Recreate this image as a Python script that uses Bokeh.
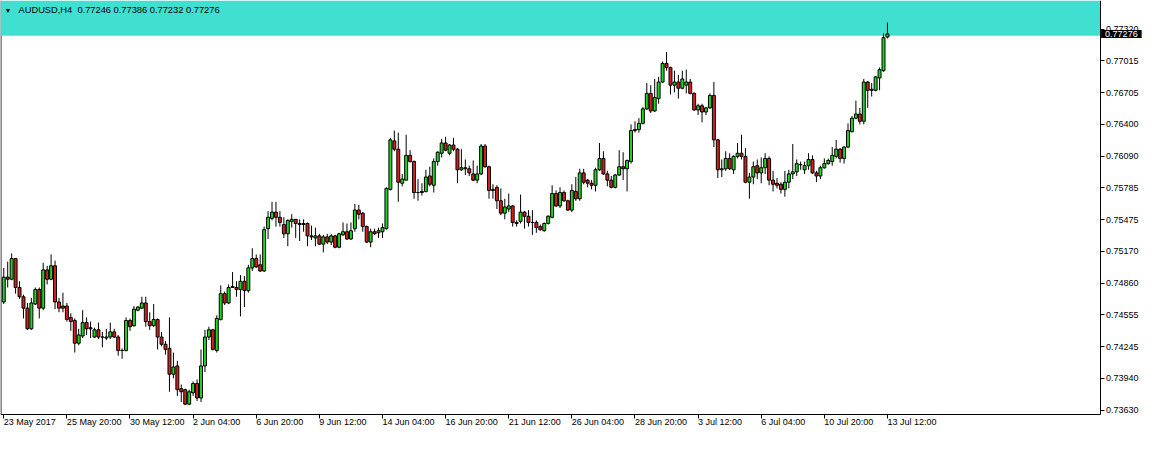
from bokeh.plotting import figure
from bokeh.models import (Range1d, FixedTicker, PrintfTickFormatter, BoxAnnotation,
                          Label, ColumnDataSource)
from bokeh.embed import file_html
from bokeh.resources import INLINE

symbol = "AUDUSD,H4"

open_ = [
    0.7468, 0.7492, 0.7490, 0.7510, 0.7482, 0.7473, 0.7462, 0.7442, 0.7466, 0.7480,
    0.7462, 0.7499, 0.7490, 0.7503, 0.7468, 0.7464, 0.7464, 0.7453, 0.7450, 0.7428,
    0.7435, 0.7448, 0.7443, 0.7434, 0.7441, 0.7434, 0.7433, 0.7434, 0.7439, 0.7434,
    0.7421, 0.7421, 0.7450, 0.7445, 0.7460, 0.7462, 0.7467, 0.7449, 0.7445, 0.7451,
    0.7434, 0.7427, 0.7423, 0.7398, 0.7406, 0.7384, 0.7383, 0.7369, 0.7380, 0.7389,
    0.7375, 0.7406, 0.7434, 0.7441, 0.7421, 0.7451, 0.7476, 0.7467, 0.7482, 0.7482,
    0.7480, 0.7488, 0.7479, 0.7501, 0.7510, 0.7504, 0.7498, 0.7539, 0.7549, 0.7555,
    0.7550, 0.7543, 0.7534, 0.7546, 0.7548, 0.7544, 0.7543, 0.7544, 0.7532, 0.7530,
    0.7532, 0.7524, 0.7531, 0.7526, 0.7532, 0.7521, 0.7533, 0.7536, 0.7529, 0.7539,
    0.7557, 0.7554, 0.7541, 0.7526, 0.7536, 0.7535, 0.7536, 0.7539, 0.7577, 0.7624,
    0.7616, 0.7583, 0.7586, 0.7610, 0.7604, 0.7574, 0.7574, 0.7575, 0.7590, 0.7581,
    0.7604, 0.7612, 0.7622, 0.7612, 0.7620, 0.7616, 0.7596, 0.7598, 0.7597, 0.7592,
    0.7586, 0.7592, 0.7619, 0.7599, 0.7576, 0.7579, 0.7566, 0.7554, 0.7558, 0.7561,
    0.7545, 0.7546, 0.7555, 0.7551, 0.7545, 0.7545, 0.7541, 0.7537, 0.7544, 0.7550,
    0.7573, 0.7561, 0.7574, 0.7566, 0.7557, 0.7575, 0.7568, 0.7593, 0.7586, 0.7583,
    0.7581, 0.7596, 0.7607, 0.7592, 0.7586, 0.7579, 0.7591, 0.7599, 0.7597, 0.7604,
    0.7634, 0.7635, 0.7641, 0.7655, 0.7670, 0.7653, 0.7665, 0.7681, 0.7699, 0.7695,
    0.7678, 0.7681, 0.7675, 0.7678, 0.7681, 0.7670, 0.7654, 0.7658, 0.7652, 0.7656,
    0.7668, 0.7625, 0.7596, 0.7597, 0.7607, 0.7596, 0.7609, 0.7612, 0.7609, 0.7584,
    0.7589, 0.7600, 0.7593, 0.7598, 0.7607, 0.7586, 0.7583, 0.7582, 0.7577, 0.7584,
    0.7592, 0.7594, 0.7601, 0.7596, 0.7600, 0.7606, 0.7593, 0.7590, 0.7598, 0.7602,
    0.7604, 0.7609, 0.7616, 0.7607, 0.7618, 0.7633, 0.7646, 0.7650, 0.7643, 0.7681,
    0.7673, 0.7673, 0.7685, 0.7692, 0.77246]

high = [
    0.7501, 0.7507, 0.7515, 0.7510, 0.7488, 0.7475, 0.7467, 0.7472, 0.7482, 0.7482,
    0.7506, 0.7503, 0.7514, 0.7508, 0.7472, 0.7477, 0.7467, 0.7457, 0.7452, 0.7442,
    0.7460, 0.7453, 0.7449, 0.7443, 0.7448, 0.7439, 0.7442, 0.7448, 0.7442, 0.7436,
    0.7423, 0.7453, 0.7452, 0.7464, 0.7464, 0.7473, 0.7473, 0.7458, 0.7466, 0.7452,
    0.7439, 0.7430, 0.7453, 0.7419, 0.7411, 0.7388, 0.7384, 0.7383, 0.7391, 0.7393,
    0.7422, 0.7441, 0.7444, 0.7442, 0.7455, 0.7484, 0.7478, 0.7485, 0.7497, 0.7488,
    0.7494, 0.7493, 0.7504, 0.7520, 0.7514, 0.7514, 0.7541, 0.7556, 0.7565, 0.7565,
    0.7556, 0.7550, 0.7548, 0.7553, 0.7548, 0.7548, 0.7548, 0.7545, 0.7542, 0.7540,
    0.7534, 0.7533, 0.7534, 0.7534, 0.7533, 0.7535, 0.7545, 0.7544, 0.7545, 0.7563,
    0.7562, 0.7555, 0.7542, 0.7539, 0.7539, 0.7540, 0.7544, 0.7579, 0.7627, 0.7634,
    0.7632, 0.7592, 0.7630, 0.7615, 0.7605, 0.7587, 0.7583, 0.7596, 0.7599, 0.7607,
    0.7614, 0.7626, 0.7628, 0.7621, 0.7627, 0.7617, 0.7616, 0.7606, 0.7600, 0.7605,
    0.7600, 0.7621, 0.7621, 0.7600, 0.7582, 0.7581, 0.7578, 0.7568, 0.7573, 0.7562,
    0.7547, 0.7572, 0.7556, 0.7557, 0.7557, 0.7547, 0.7543, 0.7545, 0.7552, 0.7581,
    0.7576, 0.7579, 0.7576, 0.7567, 0.7582, 0.7589, 0.7597, 0.7597, 0.7587, 0.7586,
    0.7598, 0.7622, 0.7614, 0.7595, 0.7590, 0.7592, 0.7615, 0.7613, 0.7606, 0.7640,
    0.7643, 0.7646, 0.7657, 0.7680, 0.7678, 0.7684, 0.7686, 0.7701, 0.7710, 0.7696,
    0.7692, 0.7688, 0.7692, 0.7693, 0.7684, 0.7671, 0.7660, 0.7660, 0.7657, 0.7670,
    0.7681, 0.7626, 0.7606, 0.7614, 0.7612, 0.7610, 0.7622, 0.7630, 0.7617, 0.7593,
    0.7604, 0.7606, 0.7608, 0.7612, 0.7609, 0.7595, 0.7588, 0.7584, 0.7595, 0.7596,
    0.7621, 0.7606, 0.7604, 0.7604, 0.7612, 0.7610, 0.7595, 0.7600, 0.7607, 0.7607,
    0.7618, 0.7625, 0.7617, 0.7619, 0.7641, 0.7648, 0.7663, 0.7656, 0.7684, 0.7682,
    0.7680, 0.7687, 0.7695, 0.7728, 0.77386]

low = [
    0.7466, 0.7482, 0.7489, 0.7476, 0.7471, 0.7452, 0.7441, 0.7441, 0.7465, 0.7452,
    0.7460, 0.7485, 0.7489, 0.7461, 0.7458, 0.7458, 0.7449, 0.7440, 0.7419, 0.7426,
    0.7433, 0.7436, 0.7433, 0.7433, 0.7432, 0.7424, 0.7431, 0.7432, 0.7433, 0.7416,
    0.7413, 0.7420, 0.7440, 0.7444, 0.7459, 0.7461, 0.7444, 0.7441, 0.7444, 0.7422,
    0.7425, 0.7417, 0.7381, 0.7394, 0.7377, 0.7371, 0.7368, 0.7368, 0.7377, 0.7372,
    0.7371, 0.7400, 0.7431, 0.7421, 0.7419, 0.7450, 0.7465, 0.7466, 0.7482, 0.7473,
    0.7454, 0.7463, 0.7477, 0.7498, 0.7501, 0.7497, 0.7497, 0.7529, 0.7547, 0.7541,
    0.7541, 0.7530, 0.7522, 0.7540, 0.7530, 0.7527, 0.7536, 0.7522, 0.7528, 0.7522,
    0.7523, 0.7516, 0.7524, 0.7523, 0.7520, 0.7520, 0.7532, 0.7528, 0.7528, 0.7536,
    0.7548, 0.7536, 0.7525, 0.7521, 0.7533, 0.7530, 0.7530, 0.7538, 0.7576, 0.7614,
    0.7565, 0.7580, 0.7586, 0.7603, 0.7568, 0.7566, 0.7571, 0.7574, 0.7580, 0.7574,
    0.7600, 0.7608, 0.7614, 0.7610, 0.7614, 0.7583, 0.7595, 0.7591, 0.7590, 0.7585,
    0.7583, 0.7591, 0.7598, 0.7568, 0.7568, 0.7558, 0.7552, 0.7548, 0.7555, 0.7541,
    0.7541, 0.7544, 0.7539, 0.7541, 0.7533, 0.7535, 0.7537, 0.7536, 0.7543, 0.7549,
    0.7560, 0.7559, 0.7565, 0.7556, 0.7555, 0.7566, 0.7566, 0.7582, 0.7579, 0.7577,
    0.7575, 0.7595, 0.7591, 0.7580, 0.7578, 0.7578, 0.7590, 0.7586, 0.7575, 0.7602,
    0.7632, 0.7632, 0.7640, 0.7654, 0.7651, 0.7652, 0.7660, 0.7680, 0.7692, 0.7669,
    0.7671, 0.7665, 0.7674, 0.7670, 0.7669, 0.7653, 0.7649, 0.7642, 0.7649, 0.7655,
    0.7618, 0.7588, 0.7589, 0.7595, 0.7596, 0.7592, 0.7607, 0.7606, 0.7583, 0.7568,
    0.7582, 0.7587, 0.7583, 0.7592, 0.7581, 0.7575, 0.7578, 0.7573, 0.7570, 0.7578,
    0.7587, 0.7590, 0.7596, 0.7592, 0.7596, 0.7592, 0.7584, 0.7587, 0.7597, 0.7601,
    0.7600, 0.7607, 0.7603, 0.7602, 0.7617, 0.7632, 0.7645, 0.7640, 0.7640, 0.7656,
    0.7667, 0.7672, 0.7673, 0.7691, 0.77232]

close = [
    0.7492, 0.7490, 0.7510, 0.7482, 0.7473, 0.7462, 0.7442, 0.7467, 0.7480, 0.7462,
    0.7499, 0.7490, 0.7503, 0.7468, 0.7462, 0.7462, 0.7451, 0.7449, 0.7428, 0.7436,
    0.7448, 0.7442, 0.7442, 0.7441, 0.7434, 0.7434, 0.7434, 0.7439, 0.7434, 0.7421,
    0.7421, 0.7450, 0.7444, 0.7461, 0.7463, 0.7467, 0.7449, 0.7445, 0.7451, 0.7434,
    0.7427, 0.7422, 0.7398, 0.7405, 0.7383, 0.7381, 0.7369, 0.7381, 0.7389, 0.7375,
    0.7406, 0.7434, 0.7441, 0.7422, 0.7452, 0.7476, 0.7467, 0.7482, 0.7483, 0.7480,
    0.7488, 0.7479, 0.7501, 0.7510, 0.7502, 0.7498, 0.7538, 0.7550, 0.7555, 0.7550,
    0.7545, 0.7534, 0.7547, 0.7548, 0.7544, 0.7543, 0.7544, 0.7532, 0.7531, 0.7532,
    0.7524, 0.7531, 0.7526, 0.7532, 0.7521, 0.7534, 0.7536, 0.7529, 0.7537, 0.7557,
    0.7553, 0.7541, 0.7526, 0.7536, 0.7534, 0.7537, 0.7540, 0.7578, 0.7625, 0.7616,
    0.7584, 0.7587, 0.7610, 0.7604, 0.7574, 0.7574, 0.7575, 0.7589, 0.7582, 0.7604,
    0.7613, 0.7622, 0.7615, 0.7620, 0.7616, 0.7596, 0.7598, 0.7597, 0.7593, 0.7586,
    0.7592, 0.7619, 0.7599, 0.7576, 0.7577, 0.7566, 0.7554, 0.7560, 0.7561, 0.7545,
    0.7544, 0.7555, 0.7551, 0.7545, 0.7545, 0.7540, 0.7538, 0.7544, 0.7551, 0.7573,
    0.7561, 0.7574, 0.7566, 0.7557, 0.7576, 0.7568, 0.7593, 0.7584, 0.7583, 0.7581,
    0.7596, 0.7607, 0.7592, 0.7586, 0.7579, 0.7591, 0.7599, 0.7597, 0.7605, 0.7634,
    0.7635, 0.7641, 0.7655, 0.7670, 0.7653, 0.7666, 0.7681, 0.7699, 0.7695, 0.7678,
    0.7681, 0.7675, 0.7684, 0.7681, 0.7670, 0.7654, 0.7658, 0.7652, 0.7656, 0.7668,
    0.7625, 0.7596, 0.7597, 0.7607, 0.7597, 0.7609, 0.7612, 0.7609, 0.7584, 0.7589,
    0.7599, 0.7593, 0.7598, 0.7607, 0.7586, 0.7582, 0.7581, 0.7577, 0.7584, 0.7592,
    0.7594, 0.7602, 0.7601, 0.7600, 0.7606, 0.7593, 0.7590, 0.7598, 0.7602, 0.7605,
    0.7610, 0.7616, 0.7607, 0.7618, 0.7634, 0.7646, 0.7650, 0.7643, 0.7681, 0.7673,
    0.7674, 0.7686, 0.7693, 0.7724, 0.77276]

# bottom time scale: bar index of each label and its text
tick_bars = [0, 16, 32, 48, 64, 80, 96, 112, 128, 144, 160, 176, 192, 208, 224]
tick_labels = ["23 May 2017", "25 May 20:00", "30 May 12:00", "2 Jun 04:00",
               "6 Jun 20:00", "9 Jun 12:00", "14 Jun 04:00", "16 Jun 20:00",
               "21 Jun 12:00", "26 Jun 04:00", "28 Jun 20:00", "3 Jul 12:00",
               "6 Jul 04:00", "10 Jul 20:00", "13 Jul 12:00"]

# right price scale
price_ticks = [0.73630, 0.73940, 0.74245, 0.74555, 0.74860, 0.75170, 0.75475,
               0.75785, 0.76090, 0.76400, 0.76705, 0.77015, 0.77320]

UP = "#1FD81F"
DOWN = "#D81F1F"
BAND = "#40E0D0"
FONT = "Liberation Sans"

X_START = -0.825     # left edge of the chart window (bar units)
X_SCALE = 277.9      # where the price scale sits (bar units)
X_END = 288.9        # right edge of the page (bar units)
Y_MIN, Y_MAX = 0.73593, 0.77600   # price at the time scale / at the window top
Y_PAGE_BOTTOM = 0.73396            # bottom of the page, below the time labels
BAND_BOTTOM = 0.77259

n = len(close)
xs = list(range(n))
src = ColumnDataSource(dict(
    x=xs, o=open_, h=high, l=low, c=close,
    top=[max(a, b) for a, b in zip(open_, close)],
    bottom=[min(a, b) for a, b in zip(open_, close)],
    color=[UP if c > o else DOWN for o, c in zip(open_, close)],
))

p = figure(width=1143, height=434,
           x_range=Range1d(X_START, X_END), y_range=Range1d(Y_PAGE_BOTTOM, Y_MAX),
           y_axis_location="right", toolbar_location=None, output_backend="svg",
           min_border_left=0, min_border_top=0, min_border_right=0, min_border_bottom=0,
           background_fill_color="white", border_fill_color="white")
p.outline_line_color = None
p.xgrid.visible = False
p.ygrid.visible = False

# left border of the chart window, then the header band over it
p.segment(x0=[X_START + 0.12], y0=[Y_MIN], x1=[X_START + 0.12], y1=[Y_MAX],
          line_color="black", line_width=1, level="underlay")
band = BoxAnnotation(bottom=BAND_BOTTOM, right=X_SCALE, fill_color=BAND, fill_alpha=1.0,
                     line_color=None, level="underlay")
p.add_layout(band)

p.segment(x0="x", y0="l", x1="x", y1="h", source=src, line_color="black", line_width=1)
p.vbar(x="x", width=0.75, top="top", bottom="bottom", source=src,
       fill_color="color", line_color="black", line_width=1)

xa = p.xaxis[0]
xa.fixed_location = Y_MIN
xa.ticker = FixedTicker(ticks=tick_bars)
xa.major_label_overrides = {b: t for b, t in zip(tick_bars, tick_labels)}
xa.bounds = (X_START, X_SCALE)
xa.major_label_orientation = -0.0001
xa.major_label_text_font = FONT
xa.major_label_text_font_size = "9px"
xa.major_label_text_color = "black"
xa.major_tick_in = 0
xa.major_tick_out = 4
xa.minor_tick_in = 0
xa.minor_tick_out = 0
xa.major_label_standoff = 4
xa.axis_line_color = "black"
xa.major_tick_line_color = "black"

ya = p.yaxis[0]
ya.fixed_location = X_SCALE
ya.bounds = (Y_MIN, Y_MAX)
ya.ticker = FixedTicker(ticks=price_ticks)
ya.formatter = PrintfTickFormatter(format="%.5f")
ya.major_label_text_font = FONT
ya.major_label_text_font_size = "9px"
ya.major_label_text_color = "black"
ya.major_tick_in = 0
ya.major_tick_out = 4
ya.minor_tick_in = 0
ya.minor_tick_out = 0
ya.major_label_standoff = 2
ya.axis_line_color = "black"
ya.major_tick_line_color = "black"

tri = Label(x=X_START, y=Y_MAX, x_offset=4, y_offset=-6, text="\u25bc",
            text_font=FONT, text_font_size="7px", text_color="black", text_baseline="top")
p.add_layout(tri)
header = Label(x=X_START, y=Y_MAX, x_offset=18, y_offset=-4,
               text=f"{symbol}\u00a0\u00a0{open_[-1]:.5f} {high[-1]:.5f} {low[-1]:.5f} {close[-1]:.5f}",
               text_font=FONT, text_font_size="9.3px", text_color="black", text_baseline="top")
p.add_layout(header)

last = Label(x=X_SCALE, y=close[-1], x_offset=1, text=f"{close[-1]:.5f}",
             text_font=FONT, text_font_size="9px", text_color="white", text_baseline="middle",
             text_align="left", background_fill_color="black",
             padding=dict(left=4, right=4, top=1, bottom=1), level="overlay")
p.add_layout(last)

open("out.html", "w").write(file_html(p, INLINE))
